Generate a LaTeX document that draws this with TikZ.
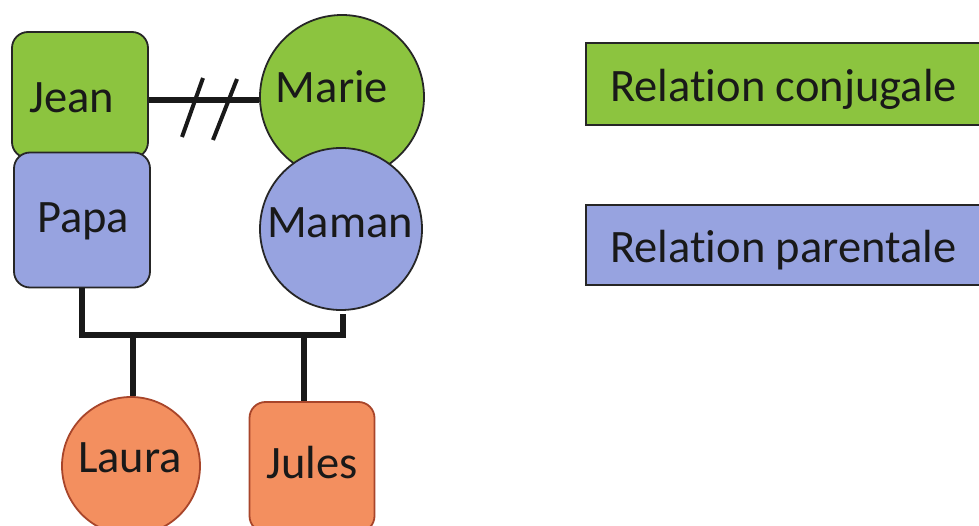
\documentclass[tikz,border=0pt]{standalone}
\usepackage{fontspec}
\setmainfont{Carlito}[Ligatures=NoCommon, RawFeature={-liga;-clig;-dlig}]
\definecolor{conjgreen}{HTML}{8CC43F}
\definecolor{parblue}{HTML}{97A3E0}
\definecolor{childorange}{HTML}{F38F5F}
\definecolor{childedge}{HTML}{A8452A}
\begin{document}
\begin{tikzpicture}[x=1pt,y=-1pt,
  lbl/.style={font=\fontsize{46.5}{50}\selectfont, text=black!90, inner sep=0pt, anchor=base},
  person/.style={draw=black!85, line width=1.8pt, inner sep=0pt},
  sqperson/.style={person, rectangle, rounded corners=16pt},
  rdperson/.style={person, circle},
  link/.style={line width=5.5pt, black!90},
  slash/.style={line width=4pt, black!90},
  legendbox/.style={draw=black!85, line width=1.8pt, rectangle, anchor=west,
    minimum width=420pt, inner sep=0pt}]
\useasboundingbox (0,0) rectangle (979,526);
\clip (0,0) rectangle (979,526);

% parents: conjugal layer (green) drawn first, parental layer (blue) on top
\node[sqperson, fill=conjgreen, minimum width=136pt, minimum height=126pt] (jean) at (80,95) {};
\node[lbl] (jeantxt) at (72,113) {Jean};
\node[rdperson, fill=conjgreen, minimum size=164pt] (marie) at (342,97) {};
\node[lbl] (marietxt) at (332,103) {Marie};
\node[sqperson, fill=parblue, minimum width=136pt, minimum height=135pt] (papa) at (82,220) {};
\node[lbl] (papatxt) at (83,233) {Papa};
\node[rdperson, fill=parblue, minimum size=162pt] (maman) at (341,229) {};
\node[lbl] (mamantxt) at (340,238) {Maman};

% children
\node[rdperson, fill=childorange, draw=childedge, minimum size=138pt] (laura) at (131,466) {};
\node[lbl] (lauratxt) at (130,472) {Laura};
\node[sqperson, fill=childorange, draw=childedge, minimum width=125pt, minimum height=130pt] (jules) at (312,467) {};
\node[lbl] (julestxt) at (312,478) {Jules};

% broken conjugal relation
\draw[link] ([yshift=-5pt]jean.east) -- ([yshift=-5pt]jean.east -| marie.west);
\draw[slash] (182,137) -- (203,78);
\draw[slash] (213,140) -- (237,79);

% parental bracket and descent lines
\coordinate (bar) at (0,335);
\draw[link] (papa.south) -- (papa.south |- bar) -- ([xshift=2pt]maman.south |- bar) -- ([xshift=2pt,yshift=-3pt]maman.south);
\draw[link] ([xshift=2pt]laura.north |- bar) -- ([xshift=2pt]laura.north);
\draw[link] ([xshift=-8pt]jules.north |- bar) -- ([xshift=-8pt]jules.north);

% legend
\node[legendbox, fill=conjgreen, minimum height=82pt] (legconj) at (585,84) {};
\node[lbl, anchor=base west] (legconjtxt) at (610,102) {Relation conjugale};
\node[legendbox, fill=parblue, minimum height=80pt] (legpar) at (585,245) {};
\node[lbl, anchor=base west] (legpartxt) at (610,263) {Relation parentale};
\end{tikzpicture}
\end{document}
